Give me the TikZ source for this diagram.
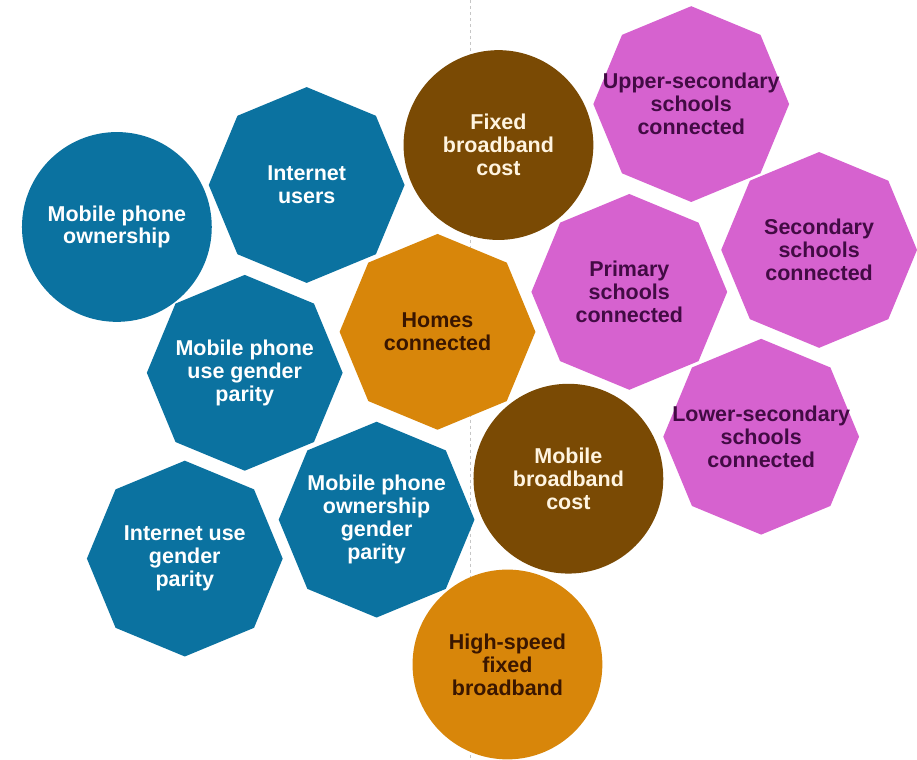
\documentclass[tikz,border=0pt]{standalone}
\usepackage{fontspec}
\setmainfont{Liberation Sans}
\usetikzlibrary{shapes.geometric}

\definecolor{ictblue}{HTML}{0B72A0}
\definecolor{ictbrown}{HTML}{7A4A04}
\definecolor{ictorange}{HTML}{D8860A}
\definecolor{ictpink}{HTML}{D662CF}
\definecolor{txtcream}{HTML}{FFF4E0}
\definecolor{txtdark}{HTML}{3A1600}
\definecolor{txtpurple}{HTML}{420B44}

\begin{document}
\begin{tikzpicture}[x=1pt, y=-1pt,
    oct/.style={regular polygon, regular polygon sides=8, shape border rotate=22.5,
                minimum size=196pt, inner sep=0pt},
    disc/.style={circle, minimum size=190pt, inner sep=0pt},
    lbl/.style={align=center, inner sep=0pt, font=\bfseries\fontsize{21.5}{23}\selectfont}]

    % page frame
    \fill[white] (0,0) rectangle (917,760);

    % dashed divider behind the shapes
    \coordinate (divtop) at (471,0);
    \coordinate (divbot) at (471,760);
    \draw[gray!45, dashed] (divtop) -- (divbot);

    % Blue group
    \node[disc, fill=ictblue] (phown) at (117,227) {};
    \node[oct, fill=ictblue] (users) at (307,185) {};
    \node[oct, fill=ictblue] (usepar) at (245,373) {};
    \node[oct, fill=ictblue] (netpar) at (185,559) {};
    \node[oct, fill=ictblue] (ownpar) at (377,520) {};

    % Brown and orange group
    \node[disc, fill=ictbrown] (fixcost) at (499,145) {};
    \node[oct, fill=ictorange] (homes) at (438,332) {};
    \node[disc, fill=ictbrown] (mobcost) at (569,479) {};
    \node[disc, fill=ictorange] (hsfixed) at (508,665) {};

    % Pink group
    \node[oct, fill=ictpink] (upsec) at (692,104) {};
    \node[oct, fill=ictpink] (prim) at (630,292) {};
    \node[oct, fill=ictpink] (sec) at (820,250) {};
    \node[oct, fill=ictpink] (lowsec) at (762,437) {};

    % Labels
    \node[lbl, text=white] (phown-t) at (phown) {Mobile phone\\ownership};
    \node[lbl, text=white] (users-t) at (users) {Internet\\users};
    \node[lbl, text=white] (usepar-t) at (usepar) {Mobile phone\\use gender\\parity};
    \node[lbl, text=white] (netpar-t) at (netpar) {Internet use\\gender\\parity};
    \node[lbl, text=white] (ownpar-t) at (ownpar) {Mobile phone\\ownership\\gender\\parity};
    \node[lbl, text=txtcream] (fixcost-t) at (fixcost) {Fixed\\broadband\\cost};
    \node[lbl, text=txtdark] (homes-t) at (homes) {Homes\\connected};
    \node[lbl, text=txtcream] (mobcost-t) at (mobcost) {Mobile\\broadband\\cost};
    \node[lbl, text=txtdark] (hsfixed-t) at (hsfixed) {High-speed\\fixed\\broadband};
    \node[lbl, text=txtpurple] (upsec-t) at (upsec) {Upper-secondary\\schools\\connected};
    \node[lbl, text=txtpurple] (prim-t) at (prim) {Primary\\schools\\connected};
    \node[lbl, text=txtpurple] (sec-t) at (sec) {Secondary\\schools\\connected};
    \node[lbl, text=txtpurple] (lowsec-t) at (lowsec) {Lower-secondary\\schools\\connected};
\end{tikzpicture}
\end{document}
